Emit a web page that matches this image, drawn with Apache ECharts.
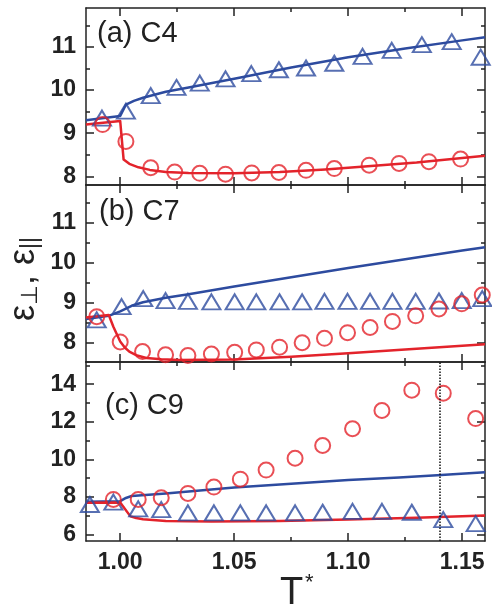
<!DOCTYPE html>
<html>
<head>
<meta charset="utf-8">
<script src="https://cdn.jsdelivr.net/npm/echarts@6.0.0/dist/echarts.min.js"></script>
<style>
  html, body { margin: 0; padding: 0; background: #fff; }
  #chart { width: 492px; height: 608px; }
</style>
</head>
<body>
<div id="chart"></div>
<script>
// x range and ticks (T*)
const X_MIN = 0.985, X_MAX = 1.16;
const xMajor = [1.00, 1.05, 1.10, 1.15];
const xMinor = [1.025, 1.075, 1.125];

// y ranges / ticks per panel
const yRangeA = [7.8, 11.9], yMajorA = [8, 9, 10, 11], yMinorA = [8.5, 9.5, 10.5, 11.5];
const yRangeB = [7.52, 11.93], yMajorB = [8, 9, 10, 11], yMinorB = [8.5, 9.5, 10.5, 11.5];
const yRangeC = [5.66, 15.18], yMajorC = [6, 8, 10, 12, 14], yMinorC = [7, 9, 11, 13, 15];

// panel (a) C4
const triA_T = [0.992, 1.0025, 1.0134, 1.0247, 1.0349, 1.0462, 1.0575, 1.0696, 1.0815, 1.0939, 1.1063, 1.1191, 1.1323, 1.1454, 1.1581];
const triA_V = [9.35, 9.51, 9.87, 10.06, 10.16, 10.26, 10.38, 10.47, 10.51, 10.62, 10.78, 10.92, 11.05, 11.12, 10.76];
const circA_T = [0.9923, 1.0025, 1.0134, 1.0239, 1.0349, 1.0462, 1.0577, 1.0696, 1.0815, 1.0939, 1.1092, 1.1223, 1.1354, 1.1493];
const circA_V = [9.20, 8.81, 8.20, 8.10, 8.07, 8.05, 8.08, 8.09, 8.14, 8.18, 8.26, 8.30, 8.34, 8.40];
const lineBlueA_T = [0.985, 1.0, 1.0025, 1.006, 1.01, 1.02, 1.03, 1.05, 1.075, 1.10, 1.125, 1.15, 1.16];
const lineBlueA_V = [9.30, 9.40, 9.66, 9.75, 9.82, 9.96, 10.06, 10.26, 10.52, 10.76, 10.96, 11.15, 11.22];
const lineRedA_T = [0.985, 1.0, 1.0015, 1.004, 1.008, 1.013, 1.02, 1.03, 1.05, 1.07, 1.09, 1.11, 1.13, 1.16];
const lineRedA_V = [9.20, 9.28, 8.39, 8.29, 8.21, 8.15, 8.10, 8.08, 8.07, 8.10, 8.16, 8.24, 8.32, 8.48];

// panel (b) C7
const triB_T = [0.9897, 1.0006, 1.0101, 1.0199, 1.0297, 1.04, 1.0502, 1.0597, 1.0699, 1.0798, 1.0896, 1.0997, 1.1096, 1.1194, 1.1296, 1.1398, 1.1498, 1.1588];
const triB_V = [8.57, 8.90, 9.10, 9.05, 9.03, 9.02, 9.02, 9.02, 9.02, 9.02, 9.03, 9.03, 9.03, 9.03, 9.03, 9.04, 9.05, 9.10];
const circB_T = [0.9897, 1.0, 1.0098, 1.0199, 1.0297, 1.04, 1.0502, 1.0597, 1.0699, 1.0798, 1.0896, 1.0997, 1.1096, 1.1194, 1.1296, 1.1398, 1.1498, 1.1588];
const circB_V = [8.65, 8.02, 7.78, 7.70, 7.68, 7.72, 7.76, 7.82, 7.89, 8.00, 8.11, 8.25, 8.38, 8.53, 8.67, 8.84, 8.97, 9.19];
const lineBlueB_T = [0.985, 0.995, 1.0, 1.005, 1.01, 1.02, 1.03, 1.05, 1.075, 1.10, 1.125, 1.15, 1.16];
const lineBlueB_V = [8.59, 8.67, 8.78, 8.92, 9.01, 9.12, 9.21, 9.40, 9.63, 9.86, 10.08, 10.30, 10.38];
const lineRedB_T = [0.985, 0.995, 0.997, 1.0, 1.002, 1.004, 1.007, 1.0115, 1.018, 1.026, 1.05, 1.075, 1.10, 1.13, 1.16];
const lineRedB_V = [8.63, 8.69, 8.40, 8.03, 7.88, 7.78, 7.69, 7.62, 7.59, 7.57, 7.58, 7.65, 7.74, 7.85, 7.96];

// panel (c) C9
const circC_T = [0.997, 1.0079, 1.018, 1.0297, 1.0411, 1.0527, 1.064, 1.0767, 1.0888, 1.1019, 1.1148, 1.1279, 1.1417, 1.1559];
const circC_V = [7.87, 7.87, 7.96, 8.19, 8.53, 8.95, 9.43, 10.06, 10.74, 11.63, 12.60, 13.68, 13.52, 12.17];
const triC_T = [0.9867, 0.997, 1.0079, 1.018, 1.0297, 1.0411, 1.0527, 1.064, 1.0767, 1.0888, 1.1019, 1.1148, 1.1279, 1.1417, 1.1559];
const triC_V = [7.60, 7.73, 7.37, 7.33, 7.16, 7.16, 7.16, 7.16, 7.16, 7.19, 7.24, 7.24, 7.19, 6.80, 6.58];
const lineBlueC_T = [0.985, 1.0, 1.0025, 1.005, 1.02, 1.05, 1.075, 1.10, 1.1223, 1.139, 1.16];
const lineBlueC_V = [7.75, 7.78, 7.95, 8.05, 8.19, 8.50, 8.71, 8.91, 9.04, 9.16, 9.31];
const lineRedC_T = [0.985, 1.0, 1.0045, 1.007, 1.01, 1.02, 1.04, 1.07, 1.10, 1.13, 1.16];
const lineRedC_V = [7.69, 7.71, 6.97, 6.88, 6.82, 6.73, 6.70, 6.72, 6.80, 6.90, 7.02];
const dottedT = 1.139;

const RED = '#e3232b';
const BLUE = '#2d4b9f';
const INK = '#222';
const FONT = 'Liberation Sans';

const zip = (xs, ys) => xs.map((x, i) => [x, ys[i]]);

const frameLine = {show: true, onZero: false, lineStyle: {color: INK, width: 1.5}};
const tick = (vals, len) => ({show: true, inside: true, length: len, customValues: vals, lineStyle: {color: INK, width: 1.5}});
const noLabel = {show: false};

function makeXAxes(g, withLabels) {
    const base = {type: 'value', gridIndex: g, min: X_MIN, max: X_MAX, splitLine: {show: false}};
    const label = withLabels ? {
        show: true, customValues: xMajor, margin: 10,
        formatter: v => v.toFixed(2),
        fontFamily: FONT, fontWeight: 'bold', fontSize: 23, color: INK
    } : noLabel;
    return [
        {...base, position: 'bottom', axisLine: frameLine, axisTick: tick(xMajor, 8), axisLabel: label},
        {...base, position: 'bottom', axisLine: {show: false}, axisTick: tick(xMinor, 4), axisLabel: noLabel},
        {...base, position: 'top', axisLine: frameLine, axisTick: tick(xMajor, 8), axisLabel: noLabel},
        {...base, position: 'top', axisLine: {show: false}, axisTick: tick(xMinor, 4), axisLabel: noLabel}
    ];
}

function makeYAxes(g, range, major, minor) {
    const base = {type: 'value', gridIndex: g, min: range[0], max: range[1], splitLine: {show: false}};
    const label = {
        show: true, customValues: major, margin: 10,
        formatter: v => String(Math.round(v)),
        fontFamily: FONT, fontWeight: 'bold', fontSize: 23, color: INK
    };
    return [
        {...base, position: 'left', axisLine: frameLine, axisTick: tick(major, 8), axisLabel: label},
        {...base, position: 'left', axisLine: {show: false}, axisTick: tick(minor, 4), axisLabel: noLabel},
        {...base, position: 'right', axisLine: frameLine, axisTick: tick(major, 8), axisLabel: noLabel},
        {...base, position: 'right', axisLine: {show: false}, axisTick: tick(minor, 4), axisLabel: noLabel}
    ];
}

function lineSeries(g, xs, ys, color, extra) {
    return Object.assign({
        type: 'line', xAxisIndex: g * 4, yAxisIndex: g * 4,
        data: zip(xs, ys), showSymbol: false, symbol: 'none',
        smooth: false,
        lineStyle: {color: color, width: 2.5, join: 'round'}, z: 2
    }, extra || {});
}

function markerSeries(g, xs, ys, color, symbol, size) {
    return {
        type: 'scatter', xAxisIndex: g * 4, yAxisIndex: g * 4,
        data: zip(xs, ys), symbol: symbol, symbolSize: size,
        itemStyle: {color: 'rgba(0,0,0,0)', borderColor: color, borderWidth: 2},
        z: 3
    };
}

const chart = echarts.init(document.getElementById('chart'), null, {renderer: 'canvas'});

chart.setOption({
    animation: false,
    backgroundColor: '#fff',
    grid: [
        {left: 86, width: 399, top: 8, height: 177},
        {left: 86, width: 399, top: 185, height: 177},
        {left: 86, width: 399, top: 362, height: 179}
    ],
    xAxis: [...makeXAxes(0, false), ...makeXAxes(1, false), ...makeXAxes(2, true)],
    yAxis: [
        ...makeYAxes(0, yRangeA, yMajorA, yMinorA),
        ...makeYAxes(1, yRangeB, yMajorB, yMinorB),
        ...makeYAxes(2, yRangeC, yMajorC, yMinorC)
    ],
    series: [
        lineSeries(0, lineBlueA_T, lineBlueA_V, BLUE),
        lineSeries(0, lineRedA_T, lineRedA_V, RED),
        markerSeries(0, triA_T, triA_V, BLUE, 'triangle', [18, 15]),
        markerSeries(0, circA_T, circA_V, RED, 'circle', 15),

        lineSeries(1, lineBlueB_T, lineBlueB_V, BLUE),
        lineSeries(1, lineRedB_T, lineRedB_V, RED),
        markerSeries(1, triB_T, triB_V, BLUE, 'triangle', [18, 15]),
        markerSeries(1, circB_T, circB_V, RED, 'circle', 15),

        lineSeries(2, lineBlueC_T, lineBlueC_V, BLUE),
        lineSeries(2, lineRedC_T, lineRedC_V, RED, {
            markLine: {
                silent: true, symbol: ['none', 'none'], label: {show: false},
                lineStyle: {type: 'dotted', color: '#111', width: 1.5},
                data: [{xAxis: dottedT}]
            }
        }),
        markerSeries(2, triC_T, triC_V, BLUE, 'triangle', [18, 15]),
        markerSeries(2, circC_T, circC_V, RED, 'circle', 15)
    ],
    graphic: [
        {type: 'text', left: 97, top: 19, style: {text: '(a) C4', font: '29px "Liberation Sans"', fill: INK}},
        {type: 'text', left: 99, top: 197, style: {text: '(b) C7', font: '29px "Liberation Sans"', fill: INK}},
        {type: 'text', left: 105, top: 391, style: {text: '(c) C9', font: '29px "Liberation Sans"', fill: INK}},
        {type: 'text', left: 280, top: 575, style: {text: 'T', font: '38px "Liberation Sans"', fill: INK}},
        {type: 'text', left: 305, top: 572, style: {text: '*', font: '22px "Liberation Sans"', fill: INK}},
        {
            type: 'text', x: 24, y: 279, rotation: Math.PI / 2,
            style: {
                text: '{e|ε}{s|⊥}{e|, ε}{s|||}',
                align: 'center', verticalAlign: 'middle',
                rich: {
                    e: {font: '36px "Liberation Sans"', fill: INK, color: INK},
                    s: {font: '23px "Liberation Sans"', fill: INK, color: INK, verticalAlign: 'bottom'}
                }
            }
        }
    ]
});
</script>
</body>
</html>
